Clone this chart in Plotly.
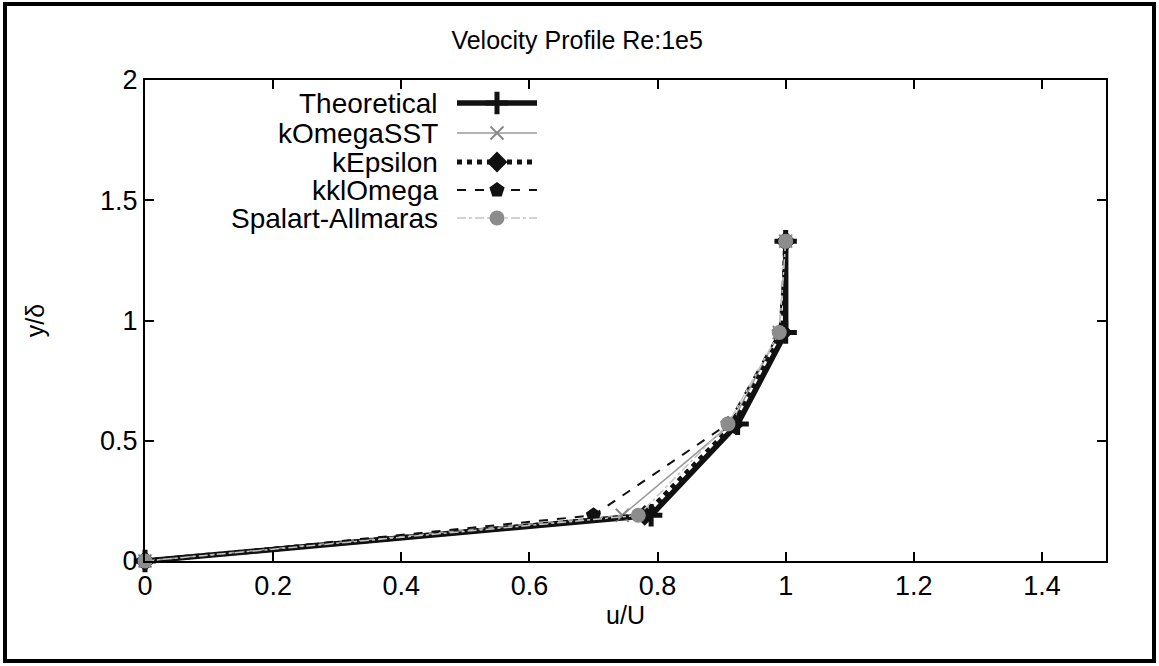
import plotly.graph_objects as go

# ---- data ----
y_pos = [0, 0.19, 0.57, 0.95, 1.33]
theoretical = [0, 0.79, 0.925, 1.0, 1.0]
komega_sst = [0, 0.745, 0.915, 0.99, 1.0]
kepsilon = [0, 0.78, 0.92, 0.995, 1.0]
kklomega = [0, 0.70, 0.91, 0.99, 1.0]
spalart = [0, 0.77, 0.91, 0.99, 1.0]

series_names = ["Theoretical", "kOmegaSST", "kEpsilon", "kklOmega", "Spalart-Allmaras"]
x_ticks = [0, 0.2, 0.4, 0.6, 0.8, 1, 1.2, 1.4]
x_tick_text = ["0", "0.2", "0.4", "0.6", "0.8", "1", "1.2", "1.4"]
y_ticks = [0, 0.5, 1, 1.5, 2]
y_tick_text = ["0", "0.5", "1", "1.5", "2"]

FONT = "Liberation Sans, Arial, Helvetica, sans-serif"

styles = [
    dict(line=dict(color="#111", width=5.5, dash="solid"),
         marker=dict(symbol="cross-thin-open", size=16, color="#111", line=dict(width=5, color="#111"))),
    dict(line=dict(color="#9a9a9a", width=1.5, dash="solid"),
         marker=dict(symbol="x-thin-open", size=13, color="#8a8a8a", line=dict(width=2, color="#8a8a8a"))),
    dict(line=dict(color="#111", width=5, dash="dot"),
         marker=dict(symbol="diamond", size=16, color="#111")),
    dict(line=dict(color="#111", width=2, dash="dash"),
         marker=dict(symbol="pentagon", size=16, color="#111")),
    dict(line=dict(color="#c4c4c4", width=1.5, dash="dashdot"),
         marker=dict(symbol="circle", size=15, color="#8c8c8c")),
]
all_x = [theoretical, komega_sst, kepsilon, kklomega, spalart]

fig = go.Figure()
for name, xs, st in zip(series_names, all_x, styles):
    fig.add_trace(go.Scatter(x=xs, y=y_pos, mode="lines+markers", name=name,
                             line=st["line"], marker=st["marker"],
                             cliponaxis=False, showlegend=False))

# ---- custom legend (text right-aligned, sample on the right) ----
leg_rows = [103, 133, 162, 190, 218]
for name, st, ry in zip(series_names, styles, leg_rows):
    fig.add_annotation(x=440, y=ry, xref="x2", yref="y2", text=name, showarrow=False,
                       xanchor="right", yanchor="middle",
                       font=dict(family=FONT, size=28, color="#000"))
    fig.add_trace(go.Scatter(x=[457, 537], y=[ry, ry], mode="lines", xaxis="x2", yaxis="y2",
                             line=st["line"], showlegend=False, hoverinfo="skip"))
    fig.add_trace(go.Scatter(x=[497], y=[ry], mode="markers", xaxis="x2", yaxis="y2",
                             marker=st["marker"], showlegend=False, hoverinfo="skip"))

# outer frame of the picture (paper coordinates relative to plot area)
PL, PR, PT, PB = 145, 1106, 80, 561
def px_x(p):
    return (p - PL) / (PR - PL)
def px_y(p):
    return (PB - p) / (PB - PT)
fig.add_shape(type="rect", xref="paper", yref="paper",
              x0=px_x(5), x1=px_x(1154), y0=px_y(661), y1=px_y(4),
              line=dict(color="#000", width=4), layer="below")

axis_common = dict(showgrid=False, zeroline=False, showline=True, linecolor="#000", linewidth=2,
                   ticks="inside", ticklen=9, tickwidth=2, tickcolor="#000", mirror="ticks",
                   tickfont=dict(family=FONT, size=27, color="#000"))

fig.update_layout(
    width=1159, height=666,
    margin=dict(l=145, r=53, t=80, b=105),
    paper_bgcolor="white", plot_bgcolor="white",
    title=dict(text="Velocity Profile Re:1e5", x=0.498, xanchor="center", y=0.94, yanchor="middle",
               yref="container", font=dict(family=FONT, size=25, color="#000")),
    xaxis=dict(range=[0, 1.5], tickvals=x_ticks, ticktext=x_tick_text,
               title=dict(text="u/U", font=dict(family=FONT, size=25, color="#000"), standoff=6),
               **axis_common),
    yaxis=dict(range=[0, 2], tickvals=y_ticks, ticktext=y_tick_text,
               title=dict(text="y/δ", font=dict(family=FONT, size=25, color="#000"), standoff=48),
               **axis_common),
    xaxis2=dict(range=[145, 1106], overlaying="x", visible=False, fixedrange=True),
    yaxis2=dict(range=[561, 80], overlaying="y", visible=False, fixedrange=True),
    showlegend=False,
)

fig.write_html("out.html")
